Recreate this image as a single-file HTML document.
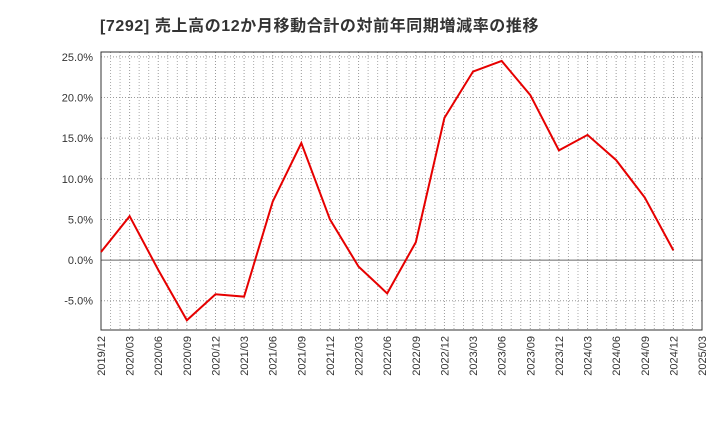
<!DOCTYPE html>
<html><head><meta charset="utf-8"><style>
body{margin:0;background:#fff;font-family:"Liberation Sans","Noto Sans CJK JP",sans-serif;}
</style></head><body>
<svg id="c" width="720" height="440" xmlns="http://www.w3.org/2000/svg">
<text x="100" y="31" font-size="16" font-weight="bold" fill="#333" letter-spacing="0.6" font-family="Liberation Sans, Noto Sans CJK JP, sans-serif">[7292]  売上高の12か月移動合計の対前年同期増減率の推移</text>
</svg>
<script>
const categories=["2019/12","2020/03","2020/06","2020/09","2020/12","2021/03","2021/06","2021/09","2021/12","2022/03","2022/06","2022/09","2022/12","2023/03","2023/06","2023/09","2023/12","2024/03","2024/06","2024/09","2024/12","2025/03"];
const values=[1.0,5.4,-1.2,-7.4,-4.2,-4.5,7.2,14.4,5.0,-0.8,-4.1,2.2,17.5,23.2,24.5,20.3,13.5,15.4,12.3,7.7,1.2];
const yTicks=[25,20,15,10,5,0,-5];
const yTickLabels=["25.0%","20.0%","15.0%","10.0%","5.0%","0.0%","-5.0%"];
const svg=document.getElementById('c');
const NS="http://www.w3.org/2000/svg";
const L=101,R=702,T=52,B=330;
const yMin=-8.6,yMax=25.6;
const x=i=>L+(R-L)*i/(categories.length-1);
const y=v=>B-(v-yMin)/(yMax-yMin)*(B-T);
function mk(t,a){const e=document.createElementNS(NS,t);for(const k in a)e.setAttribute(k,a[k]);svg.appendChild(e);return e;}
// monthly vertical grid
for(let m=1;m<(categories.length-1)*3;m++){
 if(m%3===0)continue;
 const xm=x(m/3);
 const g=mk('line',{x1:xm,x2:xm,y1:T,y2:B,stroke:'#aaa','stroke-dasharray':'1,2','stroke-width':1});
 
 
}
categories.forEach((c,i)=>{
 const g=mk('line',{x1:x(i),x2:x(i),y1:T,y2:B,stroke:'#999','stroke-dasharray':'1,2','stroke-width':1});
 
 
 const t=mk('text',{x:0,y:0,'font-size':11,fill:'#333','text-anchor':'end',transform:`translate(${x(i)+4},${B+6}) rotate(-90)`});
 t.textContent=c;
 
 
});
yTicks.forEach((v,i)=>{
 const g=mk('line',{x1:L,x2:R,y1:y(v),y2:y(v),stroke:v===0?'#666':'#999','stroke-dasharray':v===0?'none':'1,2','stroke-width':1});
 
 
 const t=mk('text',{x:L-8,y:y(v)+4,'font-size':11,fill:'#333','text-anchor':'end'});
 t.textContent=yTickLabels[i];
 
 
});
const f=mk('rect',{x:L,y:T,width:R-L,height:B-T,fill:'none',stroke:'#333','stroke-width':1});


const p=mk('polyline',{points:values.map((v,i)=>x(i)+','+y(v)).join(' '),fill:'none',stroke:'#e60000','stroke-width':2});


</script>
</body></html>
